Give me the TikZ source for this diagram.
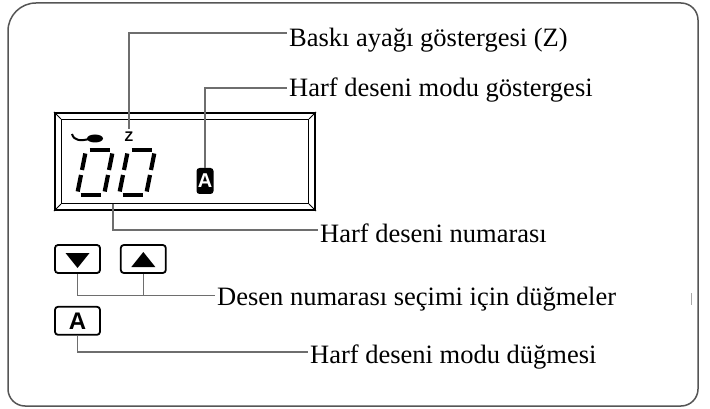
\documentclass[tikz,border=0pt]{standalone}
\usepackage{fontspec}
\setmainfont{Liberation Serif}
\newfontfamily\lcdfont{Liberation Sans}
\usetikzlibrary{positioning,calc}
\definecolor{leadgray}{RGB}{110,110,110}
\definecolor{framegray}{RGB}{85,85,85}

% one slanted seven-segment zero, bottom-left corner at #1
\newcommand{\lcdzero}[1]{%
  \begin{scope}[shift={#1}, xslant=0.2]
    \draw[seg] (3.5,0) -- (23.5,0);
    \draw[seg] (3.5,-45) -- (23.5,-45);
    \draw[seg] (0,-3.5) -- (0,-20);
    \draw[seg] (0,-25) -- (0,-41.5);
    \draw[seg] (27,-3.5) -- (27,-20);
    \draw[seg] (27,-25) -- (27,-41.5);
  \end{scope}}

\begin{document}
\begin{tikzpicture}[x=1pt, y=-1pt,
    leader/.style={draw=leadgray, line width=1.3pt},
    tag/.style={anchor=base west, inner xsep=2pt, inner ysep=0pt, font=\fontsize{26.5}{30}\selectfont},
    keybox/.style={draw, line width=1.8pt, rounded corners=3pt, minimum width=45pt, minimum height=28pt, inner sep=0pt},
    seg/.style={line width=4.2pt, line cap=butt}]
  \useasboundingbox (0,0) rectangle (710,409);

  % outer panel
  \draw[framegray, line width=1.5pt] (8,200) -- (8,31) arc[start angle=180, end angle=90, radius=28pt]
    -- (681,3) arc[start angle=90, end angle=0, radius=17pt]
    -- (698,389) arc[start angle=0, end angle=-90, radius=17pt]
    -- (25,406) arc[start angle=270, end angle=180, radius=17pt] -- cycle;
  \draw[leadgray!60, line width=1pt] (691,293) -- (691,305);

  % display
  \node[draw, line width=2.2pt, minimum width=260pt, minimum height=97pt] (lcd) at (185,161.5) {};
  \node[draw, line width=1.2pt, minimum width=247pt, minimum height=84pt] (lcdin) at (lcd.center) {};
  \foreach \c in {north west, north east, south west, south east}
    \draw[line width=1pt] (lcd.\c) -- (lcdin.\c);

  \lcdzero{(77,195)}
  \lcdzero{(119,195)}
  \draw[line width=2pt] (72,134) .. controls (74,141) and (81,141) .. (89,139);
  \fill (95,138.5) ellipse [x radius=8pt, y radius=4pt];

  \node[font=\lcdfont\bfseries\fontsize{14}{14}\selectfont, inner xsep=0pt, inner ysep=3pt] (zmark) at (129,137) {Z};
  \node[fill=black, text=white, rounded corners=3pt, minimum width=17pt, minimum height=26pt, inner sep=0pt,
    font=\lcdfont\bfseries\fontsize{20}{20}\selectfont] (modeind) at (205,181) {A};
  \coordinate (numtap) at (113,204);

  % keys
  \node[keybox] (downkey) at (77.5,259) {};
  \node[keybox, right=19pt of downkey] (upkey) {};
  \node[keybox, below=32pt of downkey, font=\lcdfont\bfseries\fontsize{24}{24}\selectfont] (modekey) {A};
  \fill ($(downkey.center)+(-12,-6)$) -- ++(24,0) -- ++(-12,15) -- cycle;
  \fill ($(upkey.center)+(-12,8)$) -- ++(24,0) -- ++(-12,-15) -- cycle;

  % labels
  \node[tag] (footlabel) at (287,47) {Baskı ayağı göstergesi (Z)};
  \node[tag] (modelabel) at (287,97) {Harf deseni modu göstergesi};
  \node[tag] (numlabel) at (318,242) {Harf deseni numarası};
  \node[tag] (selectlabel) at (215,305) {Desen numarası seçimi için düğmeler};
  \node[tag] (keylabel) at (308,363) {Harf deseni modu düğmesi};

  % leader lines
  \draw[leader] (zmark.north) |- ([yshift=14pt]footlabel.base west);
  \draw[leader] (modeind.north) |- ([yshift=9pt]modelabel.base west);
  \draw[leader] (numtap) |- ([yshift=12pt]numlabel.base west);
  \coordinate (selectjoin) at ([yshift=9.5pt]selectlabel.base west);
  \draw[leader] (downkey.south) |- (selectjoin);
  \draw[leader] (upkey.south) -- (upkey.south |- selectjoin);
  \draw[leader] (modekey.south) |- ([yshift=11pt]keylabel.base west);
\end{tikzpicture}
\end{document}
